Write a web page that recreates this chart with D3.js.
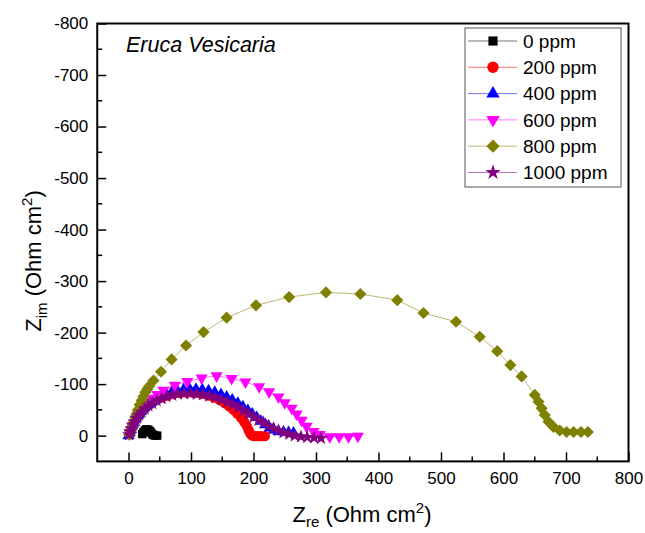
<!DOCTYPE html>
<html><head><meta charset="utf-8">
<script src="https://cdn.jsdelivr.net/npm/d3@7"></script>
<style>body{margin:0;background:#fff;} svg{display:block;font-family:Arial,"Liberation Sans",sans-serif;}</style>
</head><body><svg id="c" width="645" height="533"></svg>
<script>
// ---- data ----
const seriesNames = ["0 ppm","200 ppm","400 ppm","600 ppm","800 ppm","1000 ppm"];
const seriesColors = ["#000000","#ff0000","#0000ff","#ff00ff","#808000","#800080"];
const xTickValues = [0,100,200,300,400,500,600,700,800];
const yTickValues = [-800,-700,-600,-500,-400,-300,-200,-100,0];

const zeroX = [22,24,26,28,30,32,34,36,38,40,43,46];
const zeroY = [-3,-7,-10,-12,-12,-11,-9,-6,-3,-1,0,0];

const redX = [2,3,5,7,9,12,15,19,23,28,34,40,47,55,63,72,81,90,100,110,119,128,137,146,154,161,168,174,180,185,189,192,195,198,202,207,212,218];
const redY = [-3,-8,-14,-20,-26,-32,-38,-44,-50,-55,-61,-66,-71,-75,-78,-81,-83,-84,-84,-83,-81,-78,-74,-69,-63,-57,-50,-43,-35,-27,-19,-11,-4,0,1,1,1,1];

const blueX = [0,2,4,6,9,12,16,20,25,31,37,44,52,60,69,78,88,98,108,118,128,138,148,157,166,175,183,191,198,205,212,219,226,233,240,248,256,264];
const blueY = [0,-6,-12,-19,-26,-33,-40,-47,-54,-60,-66,-71,-76,-80,-84,-87,-89,-90,-90,-89,-87,-84,-80,-75,-69,-63,-56,-49,-42,-35,-28,-21,-15,-11,-8,-7,-6,-5];

const magX = [2,4,6,9,12,16,20,25,31,38,46,56,74,94,117,141,165,187,209,225,240,250,261,269,277,285,296,306,322,337,352,367];
const magY = [-4,-10,-17,-24,-32,-40,-48,-56,-64,-72,-80,-88,-98,-105,-112,-116,-111,-104,-95,-85,-75,-64,-53,-42,-30,-18,-8,-2,2,2,2,1];

const oliveX = [1,3,5,7,9,11,13,15,18,21,24,27,30,33,40,52,69,92,120,157,204,257,316,371,430,472,524,562,590,611,629,650,656,661,666,672,680,690,701,712,724,735];
const oliveY = [-2,-8,-14,-21,-28,-35,-42,-50,-60,-68,-76,-84,-90,-96,-107,-124,-148,-175,-201,-229,-253,-269,-278,-275,-263,-238,-221,-192,-164,-137,-115,-79,-66,-53,-40,-27,-17,-10,-7,-7,-7,-7];

const purpleX = [1,3,5,7,10,13,17,21,26,32,38,45,53,61,70,79,89,99,109,119,129,139,149,158,167,176,184,192,200,208,216,224,232,240,248,257,266,276,286,297,308];
const purpleY = [-2,-8,-14,-21,-27,-34,-40,-46,-52,-58,-63,-68,-72,-76,-79,-81,-82,-82,-81,-80,-77,-74,-70,-65,-60,-54,-48,-42,-36,-30,-25,-19,-14,-10,-6,-3,0,2,3,4,5];

const allX = [zeroX, redX, blueX, magX, oliveX, purpleX];
const allY = [zeroY, redY, blueY, magY, oliveY, purpleY];

// ---- chart ----
const svg = d3.select("#c");
const L = 97.25, R = 628.5, T = 23.5, B = 461.4;
const x = d3.scaleLinear().domain([-50, 800]).range([L, R]);
const y = d3.scaleLinear().domain([-800, 50]).range([T, B]);

const sym = [
  {t: d3.symbolSquare, s: 70, rot: 0},
  {t: d3.symbolCircle, s: 85, rot: 0},
  {t: d3.symbolTriangle, s: 64, rot: 0},
  {t: d3.symbolTriangle, s: 64, rot: 180},
  {t: d3.symbolSquare, s: 74, rot: 45},
  {t: d3.symbolStar, s: 62, rot: 0}
];

const plot = svg.append("g");
const line = d3.line().x(d => x(d[0])).y(d => y(d[1]));
allX.forEach((xs, i) => {
  const pts = xs.map((v, j) => [v, allY[i][j]]);
  const g = plot.append("g");
  g.append("path").attr("d", line(pts)).attr("fill", "none")
    .attr("stroke", seriesColors[i]).attr("stroke-opacity", 0.55).attr("stroke-width", 1);
  g.selectAll("path.m").data(pts).join("path").attr("class", "m")
    .attr("d", d3.symbol().type(sym[i].t).size(sym[i].s)())
    .attr("transform", d => `translate(${x(d[0])},${y(d[1])}) rotate(${sym[i].rot})`)
    .attr("fill", seriesColors[i]);
});

// axes
const fs = 17;
const fmt = d => String(d);
const xMinor = d3.range(50, 800, 100);
const yMinor = d3.range(-750, 50, 100);
const xAxis = d3.axisBottom(x).tickValues(xTickValues).tickFormat(fmt).tickSizeInner(-9).tickSizeOuter(0).tickPadding(11);
const gx = svg.append("g").attr("transform", `translate(0,${B})`).call(xAxis);
gx.selectAll("text").attr("font-size", fs).attr("fill", "#000").attr("font-family", "Arial, 'Liberation Sans', sans-serif");
gx.selectAll("line").attr("stroke-width", 1.5);
gx.selectAll(".domain").remove();
svg.append("g").selectAll("line").data(xMinor).join("line")
  .attr("x1", d => x(d)).attr("x2", d => x(d)).attr("y1", B).attr("y2", B - 5)
  .attr("stroke", "#000").attr("stroke-width", 1.5);

const yAxis = d3.axisLeft(y).tickValues(yTickValues).tickFormat(fmt).tickSizeInner(-9).tickSizeOuter(0).tickPadding(9);
const gy = svg.append("g").attr("transform", `translate(${L},0)`).call(yAxis);
gy.selectAll("text").attr("font-size", fs).attr("fill", "#000").attr("font-family", "Arial, 'Liberation Sans', sans-serif");
gy.selectAll("line").attr("stroke-width", 1.5);
gy.selectAll(".domain").remove();
svg.append("g").selectAll("line").data(yMinor).join("line")
  .attr("x1", L).attr("x2", L + 5).attr("y1", d => y(d)).attr("y2", d => y(d))
  .attr("stroke", "#000").attr("stroke-width", 1.5);

// frame
svg.append("rect").attr("x", L).attr("y", T).attr("width", R - L).attr("height", B - T)
  .attr("fill", "none").attr("stroke", "#000").attr("stroke-width", 2);

// title
svg.append("text").attr("x", 126).attr("y", 52).attr("font-size", 21.5).attr("font-style", "italic")
  .text("Eruca Vesicaria");

// axis labels
const xl = svg.append("text").attr("x", 362).attr("y", 522).attr("text-anchor", "middle").attr("font-size", 22);
xl.append("tspan").text("Z");
xl.append("tspan").attr("font-size", 15).attr("dy", 5).text("re");
xl.append("tspan").attr("dy", -5).text(" (Ohm cm");
xl.append("tspan").attr("font-size", 15).attr("dy", -9).text("2");
xl.append("tspan").attr("dy", 9).text(")");

const yl = svg.append("text").attr("transform", "translate(41,261) rotate(-90)").attr("text-anchor", "middle").attr("font-size", 22);
yl.append("tspan").text("Z");
yl.append("tspan").attr("font-size", 15).attr("dy", 6).text("im");
yl.append("tspan").attr("dy", -6).text(" (Ohm cm");
yl.append("tspan").attr("font-size", 15).attr("dy", -9).text("2");
yl.append("tspan").attr("dy", 9).text(")");

// legend
const lg = svg.append("g");
lg.append("rect").attr("x", 465).attr("y", 28).attr("width", 156).attr("height", 159)
  .attr("fill", "#fff").attr("stroke", "#555").attr("stroke-width", 1);
seriesNames.forEach((n, i) => {
  const cy = 41 + i * 26.3;
  lg.append("line").attr("x1", 468).attr("x2", 517).attr("y1", cy).attr("y2", cy)
    .attr("stroke", seriesColors[i]).attr("stroke-opacity", 0.55).attr("stroke-width", 1);
  lg.append("path").attr("d", d3.symbol().type(sym[i].t).size(sym[i].s * 1.2)())
    .attr("transform", `translate(493,${cy}) rotate(${sym[i].rot})`).attr("fill", seriesColors[i]);
  lg.append("text").attr("x", 523).attr("y", cy).attr("dy", "0.36em").attr("font-size", 19).text(n);
});
</script></body></html>
